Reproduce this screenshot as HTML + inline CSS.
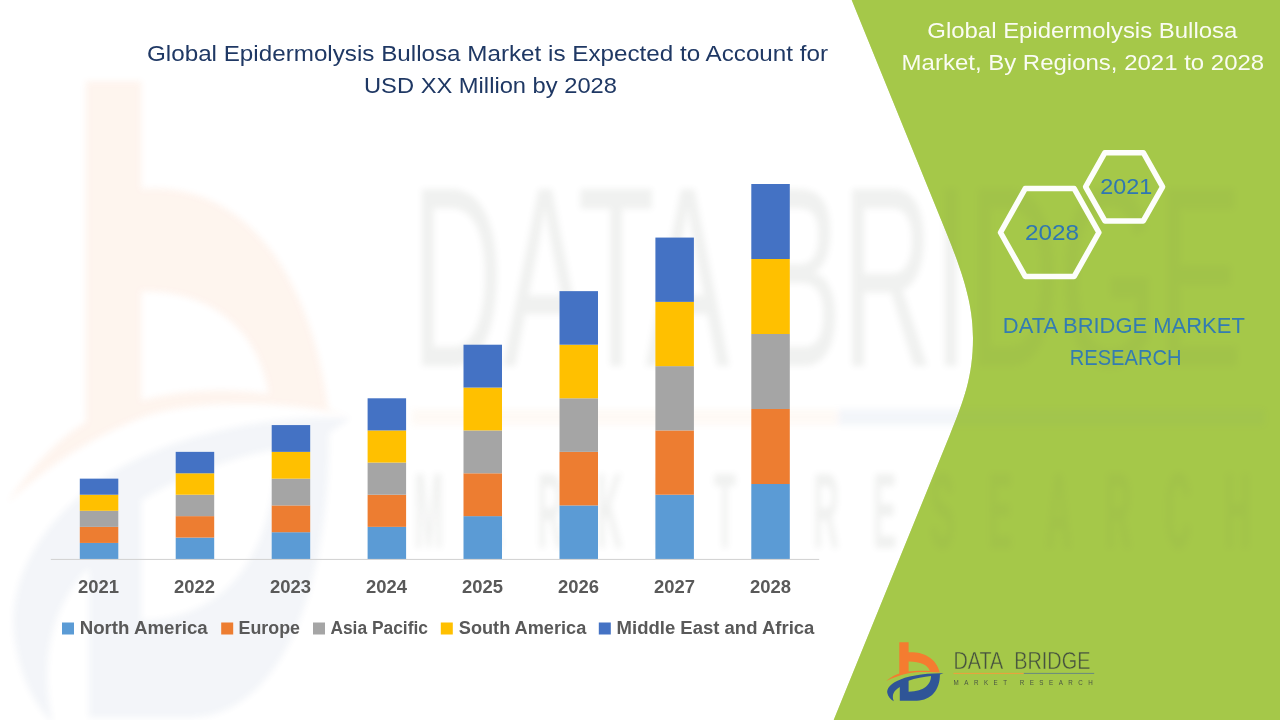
<!DOCTYPE html>
<html lang="en">
<head>
<meta charset="utf-8">
<title>Global Epidermolysis Bullosa Market</title>
<style>
  html, body { margin: 0; padding: 0; background: #ffffff; }
  body { width: 1280px; height: 720px; overflow: hidden; position: relative;
         font-family: "Liberation Sans", sans-serif; }
  svg { position: absolute; left: 0; top: 0; display: block; }
  text { font-family: "Liberation Sans", sans-serif; }
</style>
</head>
<body>
<svg width="1280" height="720" viewBox="0 0 1280 720">
  <defs>
    <filter id="wmblur" x="-5%" y="-5%" width="110%" height="110%">
      <feGaussianBlur stdDeviation="3.2"/>
    </filter>
    <!-- logo icon in page coordinates of the small logo -->
    <g id="logo-icon">
      <path id="logo-o" fill="#F47C30" d="M899.3,642.3 H908.6 V652.2 C922,651.5 936,657 939.8,672.4 L943.5,673 C930,671.3 915,671.8 908.6,673.2 C900,675 892,678 886.2,681 C891,677 896,674.6 899.3,673.6 Z M908.6,661.6 V671.6 C915,670.6 923,670.4 929.8,671 C928,665 920,661.5 908.6,661.6 Z"/>
      <path id="logo-b" fill="#2F5597" fill-rule="evenodd" d="M943.5,673.2 C925,672.8 906,676 897,681 C890,684.5 886.5,689 887.3,693 C888,696.5 890.5,699.5 893.8,701.2 C891.5,695.5 893.5,690.5 899.8,687 V700.7 H917 C931,700.5 940,690 939.9,674.6 Z M908.6,680.8 C915,678.5 924,676.8 931,676.1 C931,684 925,691.5 908.6,691.8 Z"/>
    </g>
    <g id="logo-text-thin">
      <text x="953.4" y="669.1" font-size="24" fill="#46523F" stroke="#A5C849" stroke-width="0.4" textLength="49.8" lengthAdjust="spacingAndGlyphs">DATA</text>
      <text x="1014.2" y="669.1" font-size="24" fill="#46523F" stroke="#A5C849" stroke-width="0.4" textLength="76.2" lengthAdjust="spacingAndGlyphs">BRIDGE</text>
      <rect x="953.4" y="672.9" width="70.4" height="1.1" fill="#E8A33D"/>
      <rect x="1023.8" y="672.9" width="70.4" height="1.1" fill="#6E8F7A"/>
      <text transform="translate(953.6 685.4) scale(0.8 1)" font-size="7.8" fill="#4A5644" textLength="174" lengthAdjust="spacing">MARKET  RESEARCH</text>
    </g>
  </defs>

  <!-- green panel -->
  <path id="green" fill="#A5C849" d="M851.7,0 L947.3,235 C965.5,280 973,308 973,338 C973,376 963.9,400.5 949.6,435.5 L833.7,720 L1280,720 L1280,0 Z"/>

  <!-- watermark (stretched logo) -->
  <g opacity="0.085" filter="url(#wmblur)">
    <g transform="matrix(5.99 0 0 10.9 -5301 -6920)"><use href="#logo-o" opacity="0.95"/><use href="#logo-b" opacity="0.68"/></g>
    <g transform="matrix(6.06 0 0 10.9 -5366 -6926)">
      <text x="953.4" y="669" font-size="23.6" fill="#4F5B4D" textLength="137" lengthAdjust="spacingAndGlyphs">DATA BRIDGE</text>
      <rect x="953.4" y="672.95" width="70.4" height="1.5" fill="#F09A4C" opacity="0.6"/>
      <rect x="1023.8" y="672.95" width="70.4" height="1.5" fill="#4F79B0" opacity="0.8"/>
      <text transform="translate(953.8 685.7) scale(0.6 1)" font-size="9.8" font-weight="bold" fill="#4F5B4D" textLength="230" lengthAdjust="spacing">MARKET  RESEARCH</text>
    </g>
  </g>
  <!-- green again, partially hiding the watermark over the panel -->
  <use href="#green" opacity="0.5"/>

  <!-- chart title -->
  <g fill="#1F3864" font-size="22.4" text-anchor="middle">
    <text x="487.5" y="60.5" textLength="681" lengthAdjust="spacingAndGlyphs">Global Epidermolysis Bullosa Market is Expected to Account for</text>
    <text x="490.5" y="92.6" textLength="253" lengthAdjust="spacingAndGlyphs">USD XX Million by 2028</text>
  </g>

  <!-- bars -->
  <g id="bars">
    <rect x="79.8" y="542.93" width="38.5" height="16.07" fill="#5B9BD5"/>
    <rect x="79.8" y="526.86" width="38.5" height="16.07" fill="#ED7D31"/>
    <rect x="79.8" y="510.79" width="38.5" height="16.07" fill="#A5A5A5"/>
    <rect x="79.8" y="494.71" width="38.5" height="16.07" fill="#FFC000"/>
    <rect x="79.8" y="478.64" width="38.5" height="16.07" fill="#4472C4"/>
    <rect x="175.7" y="537.57" width="38.5" height="21.43" fill="#5B9BD5"/>
    <rect x="175.7" y="516.14" width="38.5" height="21.43" fill="#ED7D31"/>
    <rect x="175.7" y="494.71" width="38.5" height="21.43" fill="#A5A5A5"/>
    <rect x="175.7" y="473.29" width="38.5" height="21.43" fill="#FFC000"/>
    <rect x="175.7" y="451.86" width="38.5" height="21.43" fill="#4472C4"/>
    <rect x="271.7" y="532.21" width="38.5" height="26.79" fill="#5B9BD5"/>
    <rect x="271.7" y="505.43" width="38.5" height="26.79" fill="#ED7D31"/>
    <rect x="271.7" y="478.64" width="38.5" height="26.79" fill="#A5A5A5"/>
    <rect x="271.7" y="451.86" width="38.5" height="26.79" fill="#FFC000"/>
    <rect x="271.7" y="425.07" width="38.5" height="26.79" fill="#4472C4"/>
    <rect x="367.6" y="526.86" width="38.5" height="32.14" fill="#5B9BD5"/>
    <rect x="367.6" y="494.71" width="38.5" height="32.14" fill="#ED7D31"/>
    <rect x="367.6" y="462.57" width="38.5" height="32.14" fill="#A5A5A5"/>
    <rect x="367.6" y="430.43" width="38.5" height="32.14" fill="#FFC000"/>
    <rect x="367.6" y="398.29" width="38.5" height="32.14" fill="#4472C4"/>
    <rect x="463.5" y="516.14" width="38.5" height="42.86" fill="#5B9BD5"/>
    <rect x="463.5" y="473.29" width="38.5" height="42.86" fill="#ED7D31"/>
    <rect x="463.5" y="430.43" width="38.5" height="42.86" fill="#A5A5A5"/>
    <rect x="463.5" y="387.57" width="38.5" height="42.86" fill="#FFC000"/>
    <rect x="463.5" y="344.71" width="38.5" height="42.86" fill="#4472C4"/>
    <rect x="559.5" y="505.43" width="38.5" height="53.57" fill="#5B9BD5"/>
    <rect x="559.5" y="451.86" width="38.5" height="53.57" fill="#ED7D31"/>
    <rect x="559.5" y="398.29" width="38.5" height="53.57" fill="#A5A5A5"/>
    <rect x="559.5" y="344.71" width="38.5" height="53.57" fill="#FFC000"/>
    <rect x="559.5" y="291.14" width="38.5" height="53.57" fill="#4472C4"/>
    <rect x="655.4" y="494.71" width="38.5" height="64.29" fill="#5B9BD5"/>
    <rect x="655.4" y="430.43" width="38.5" height="64.29" fill="#ED7D31"/>
    <rect x="655.4" y="366.14" width="38.5" height="64.29" fill="#A5A5A5"/>
    <rect x="655.4" y="301.86" width="38.5" height="64.29" fill="#FFC000"/>
    <rect x="655.4" y="237.57" width="38.5" height="64.29" fill="#4472C4"/>
    <rect x="751.3" y="484.00" width="38.5" height="75.00" fill="#5B9BD5"/>
    <rect x="751.3" y="409.00" width="38.5" height="75.00" fill="#ED7D31"/>
    <rect x="751.3" y="334.00" width="38.5" height="75.00" fill="#A5A5A5"/>
    <rect x="751.3" y="259.00" width="38.5" height="75.00" fill="#FFC000"/>
    <rect x="751.3" y="184.00" width="38.5" height="75.00" fill="#4472C4"/>
  </g>

  <!-- axis -->
  <rect x="50.8" y="558.9" width="768.4" height="1.1" fill="#D4D4D4"/>

  <!-- year labels -->
  <g fill="#595959" font-size="17.7" font-weight="bold" text-anchor="middle">
    <text x="98.5" y="592.8" textLength="41" lengthAdjust="spacingAndGlyphs">2021</text>
    <text x="194.5" y="592.8" textLength="41" lengthAdjust="spacingAndGlyphs">2022</text>
    <text x="290.5" y="592.8" textLength="41" lengthAdjust="spacingAndGlyphs">2023</text>
    <text x="386.5" y="592.8" textLength="41" lengthAdjust="spacingAndGlyphs">2024</text>
    <text x="482.5" y="592.8" textLength="41" lengthAdjust="spacingAndGlyphs">2025</text>
    <text x="578.5" y="592.8" textLength="41" lengthAdjust="spacingAndGlyphs">2026</text>
    <text x="674.5" y="592.8" textLength="41" lengthAdjust="spacingAndGlyphs">2027</text>
    <text x="770.5" y="592.8" textLength="41" lengthAdjust="spacingAndGlyphs">2028</text>
  </g>

  <!-- legend -->
  <g fill="#595959" font-size="17.6" font-weight="bold">
    <rect x="62" y="622.5" width="12" height="12" fill="#5B9BD5"/>
    <text x="79.7" y="633.6" textLength="128" lengthAdjust="spacingAndGlyphs">North America</text>
    <rect x="221.2" y="622.5" width="12" height="12" fill="#ED7D31"/>
    <text x="238.6" y="633.6" textLength="61.4" lengthAdjust="spacingAndGlyphs">Europe</text>
    <rect x="313" y="622.5" width="12" height="12" fill="#A5A5A5"/>
    <text x="330.4" y="633.6" textLength="97.6" lengthAdjust="spacingAndGlyphs">Asia Pacific</text>
    <rect x="440.8" y="622.5" width="12" height="12" fill="#FFC000"/>
    <text x="458.8" y="633.6" textLength="127.5" lengthAdjust="spacingAndGlyphs">South America</text>
    <rect x="598.8" y="622.5" width="12" height="12" fill="#4472C4"/>
    <text x="616.6" y="633.6" textLength="197.8" lengthAdjust="spacingAndGlyphs">Middle East and Africa</text>
  </g>

  <!-- right panel title -->
  <g fill="#FAFCF3" font-size="22.4" text-anchor="middle">
    <text x="1082.3" y="37.6" textLength="310" lengthAdjust="spacingAndGlyphs">Global Epidermolysis Bullosa</text>
    <text x="1082.9" y="69.6" textLength="362.6" lengthAdjust="spacingAndGlyphs">Market, By Regions, 2021 to 2028</text>
  </g>

  <!-- hexagons -->
  <g fill="none" stroke="#FDFEFB" stroke-width="5.5" stroke-linejoin="round">
    <path d="M1000.5,232.5 L1025.2,188.6 L1074.2,188.6 L1098.9,232.5 L1074.2,276.4 L1025.2,276.4 Z"/>
    <path d="M1085.6,186.8 L1104.9,152.7 L1143.3,152.7 L1162.6,186.8 L1143.3,220.9 L1104.9,220.9 Z"/>
  </g>
  <g fill="#2F77B2" font-size="22.4" text-anchor="middle">
    <text x="1052" y="240.2" textLength="54" lengthAdjust="spacingAndGlyphs">2028</text>
    <text x="1126.3" y="194.3" textLength="52" lengthAdjust="spacingAndGlyphs">2021</text>
  </g>

  <!-- DBMR text -->
  <g fill="#337CB2" font-size="22.4" text-anchor="middle">
    <text x="1123.8" y="333.3" textLength="242" lengthAdjust="spacingAndGlyphs">DATA BRIDGE MARKET</text>
    <text x="1125.6" y="365.4" textLength="111.7" lengthAdjust="spacingAndGlyphs">RESEARCH</text>
  </g>

  <!-- logo -->
  <use href="#logo-icon"/>
  <use href="#logo-text-thin"/>
</svg>
</body>
</html>
